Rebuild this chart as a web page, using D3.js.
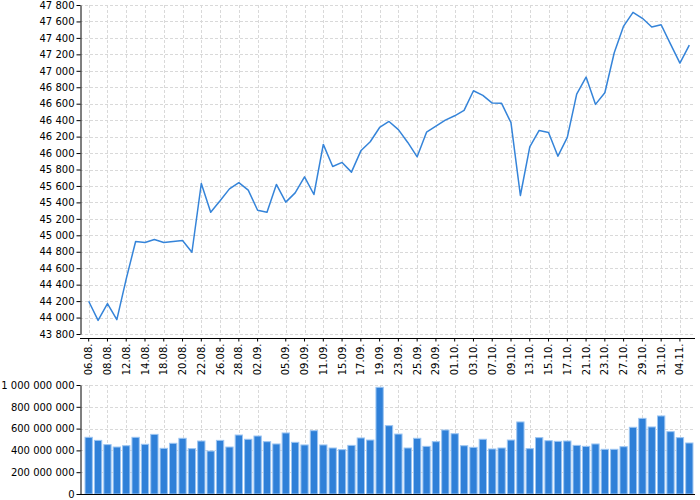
<!DOCTYPE html>
<html>
<head>
<meta charset="utf-8">
<script src="https://cdn.jsdelivr.net/npm/d3@7"></script>
<style>
    body { margin: 0; background: #fff; }
    .axis text { font-family: "DejaVu Sans", sans-serif; font-size: 10px; fill: #000; }
    .axis path, .axis line { stroke: #000; }
    .grid line { stroke: #d9d9d9; stroke-dasharray: 3,2; }
</style>
</head>
<body>
<div id="chart_container"></div>
<script>
// trading days (categories)
var dates = ["06.08.", "07.08.", "08.08.", "11.08.", "12.08.", "13.08.", "14.08.", "15.08.", "18.08.", "19.08.",
             "20.08.", "21.08.", "22.08.", "25.08.", "26.08.", "27.08.", "28.08.", "29.08.", "02.09.", "03.09.",
             "04.09.", "05.09.", "08.09.", "09.09.", "10.09.", "11.09.", "12.09.", "15.09.", "16.09.", "17.09.",
             "18.09.", "19.09.", "22.09.", "23.09.", "24.09.", "25.09.", "26.09.", "29.09.", "30.09.", "01.10.",
             "02.10.", "03.10.", "06.10.", "07.10.", "08.10.", "09.10.", "10.10.", "13.10.", "14.10.", "15.10.",
             "16.10.", "17.10.", "20.10.", "21.10.", "22.10.", "23.10.", "24.10.", "27.10.", "28.10.", "29.10.",
             "30.10.", "31.10.", "03.11.", "04.11.", "05.11."];

// closing price
var closeValues = [44198, 43966, 44170, 43975, 44470, 44924, 44912, 44949, 44912, 44924,
                   44936, 44794, 45630, 45281, 45419, 45564, 45640, 45549, 45305, 45281,
                   45618, 45403, 45516, 45711, 45496, 46105, 45837, 45886, 45768, 46027,
                   46137, 46311, 46384, 46285, 46129, 45954, 46254, 46327, 46400, 46453,
                   46518, 46757, 46701, 46607, 46604, 46368, 45484, 46076, 46275, 46251,
                   45962, 46190, 46717, 46924, 46592, 46733, 47220, 47544, 47711, 47638,
                   47532, 47560, 47325, 47094, 47313];

// traded volume
var volumeValues = [520, 492, 453, 431, 443, 520, 456, 547, 419, 465,
                    511, 416, 486, 394, 492, 431, 541, 502, 532, 480,
                    459, 560, 474, 450, 581, 450, 422, 407, 446, 514,
                    495, 979, 627, 550, 422, 511, 437, 480, 587, 553,
                    443, 428, 502, 413, 422, 495, 661, 416, 517, 489,
                    483, 486, 446, 437, 459, 410, 410, 434, 612, 694,
                    615, 716, 572, 517, 468].map(function(d) { return d * 1e6; });

var tickLabels = ["06.08.", "08.08.", "12.08.", "14.08.", "18.08.", "20.08.", "22.08.", "26.08.", "28.08.", "02.09.",
                  "05.09.", "09.09.", "11.09.", "15.09.", "17.09.", "19.09.", "23.09.", "25.09.", "29.09.", "01.10.",
                  "03.10.", "07.10.", "09.10.", "13.10.", "15.10.", "17.10.", "21.10.", "23.10.", "27.10.", "29.10.",
                  "31.10.", "04.11."];

draw_chart();

function draw_chart() {
    var chart_width = 700, chart_height = 500;
    var left = 80, right = 695;
    var top_price = {top: 5, bottom: 334, axis: 338};
    var top_vol = {top: 385, bottom: 494};

    var locale = d3.formatLocale({decimal: ",", thousands: " ", grouping: [3], currency: ["", ""]});
    var fmt = locale.format(",d");

    var svg = d3.select("#chart_container")
                .append("svg")
                .attr("width", chart_width)
                .attr("height", chart_height);

    var x = d3.scaleBand()
              .domain(dates)
              .range([84, 694])
              .paddingInner(0.22)
              .paddingOuter(0.11);
    var cx = function(d) { return x(d) + x.bandwidth() / 2; };

    var y = d3.scaleLinear()
              .domain([43800, 47800])
              .range([top_price.bottom, top_price.top]);
    var yv = d3.scaleLinear()
               .domain([0, 1e9])
               .range([top_vol.bottom, top_vol.top]);

    var priceTicks = d3.range(43800, 47801, 200);
    var volTicks = d3.range(0, 1e9 + 1, 2e8);

    // grids
    var grid = svg.append("g").attr("class", "grid");
    grid.selectAll(".hp").data(priceTicks).enter().append("line")
        .attr("x1", left).attr("x2", right)
        .attr("y1", function(d) { return Math.round(y(d)) + 0.5; })
        .attr("y2", function(d) { return Math.round(y(d)) + 0.5; });
    grid.selectAll(".vp").data(tickLabels).enter().append("line")
        .attr("x1", function(d) { return Math.round(cx(d)) + 0.5; })
        .attr("x2", function(d) { return Math.round(cx(d)) + 0.5; })
        .attr("y1", top_price.top).attr("y2", top_price.bottom);
    grid.selectAll(".hv").data(volTicks).enter().append("line")
        .attr("x1", left).attr("x2", right)
        .attr("y1", function(d) { return Math.round(yv(d)) + 0.5; })
        .attr("y2", function(d) { return Math.round(yv(d)) + 0.5; });
    grid.selectAll(".vv").data(tickLabels).enter().append("line")
        .attr("x1", function(d) { return Math.round(cx(d)) + 0.5; })
        .attr("x2", function(d) { return Math.round(cx(d)) + 0.5; })
        .attr("y1", top_vol.top).attr("y2", top_vol.bottom);

    // price line
    var line = d3.line()
        .x(function(d, i) { return cx(dates[i]); })
        .y(function(d) { return y(d); });

    svg.append("path")
        .datum(closeValues)
        .attr("d", line)
        .attr("fill", "none")
        .style("stroke", "#3584d9")
        .style("stroke-width", 1.5)
        .style("stroke-linejoin", "round");

    // volume bars
    svg.append("g").selectAll("rect")
        .data(volumeValues)
        .enter()
        .append("rect")
        .attr("x", function(d, i) { return x(dates[i]); })
        .attr("y", function(d) { return yv(d); })
        .attr("width", x.bandwidth())
        .attr("height", function(d) { return yv(0) - yv(d); })
        .attr("fill", "#2f80d8")
        .attr("stroke", "#9cc5f2")
        .attr("stroke-width", 1);

    // price y axis
    svg.append("g")
        .attr("class", "axis")
        .attr("transform", "translate(" + (left + 0.5) + ",0)")
        .call(d3.axisLeft(y).tickValues(priceTicks).tickFormat(fmt).tickSize(4).tickPadding(2).tickSizeOuter(0));

    // date x axis
    var xAxis = d3.axisBottom(x)
                  .tickValues(tickLabels)
                  .tickSize(3)
                  .tickSizeOuter(0);
    var xg = svg.append("g")
        .attr("class", "axis")
        .attr("transform", "translate(0," + (top_price.axis + 0.5) + ")")
        .call(xAxis);
    xg.select(".domain").attr("d", "M" + left + ",0H" + right);
    xg.selectAll("text")
        .attr("transform", "rotate(-90)")
        .attr("x", -5)
        .attr("y", 0)
        .attr("dy", "0.35em")
        .attr("text-anchor", "end");

    // volume y axis
    svg.append("g")
        .attr("class", "axis")
        .attr("transform", "translate(" + (left + 0.5) + ",0)")
        .call(d3.axisLeft(yv).tickValues(volTicks).tickFormat(fmt).tickSize(4).tickPadding(2).tickSizeOuter(0));

    // volume baseline
    svg.append("line")
        .attr("x1", left).attr("x2", right)
        .attr("y1", top_vol.bottom + 0.5).attr("y2", top_vol.bottom + 0.5)
        .style("stroke", "#000");
}
</script>
</body>
</html>
